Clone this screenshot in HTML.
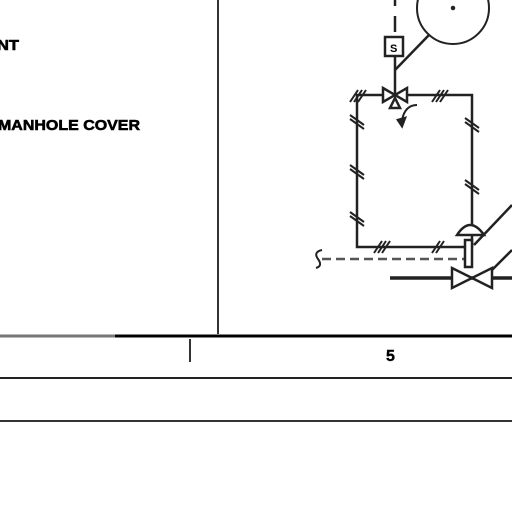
<!DOCTYPE html>
<html><head><meta charset="utf-8"><style>
html,body{margin:0;padding:0;background:#fff;width:512px;height:512px;overflow:hidden}
svg{display:block}
text{font-family:"Liberation Sans",sans-serif;font-weight:bold;fill:#000}
</style></head><body>
<svg width="512" height="512" viewBox="0 0 512 512">
<text x="-3" y="50" font-size="15" textLength="22" lengthAdjust="spacingAndGlyphs" stroke="#000" stroke-width="0.6">NT</text>
<text x="-2" y="130" font-size="15" textLength="142" lengthAdjust="spacingAndGlyphs" stroke="#000" stroke-width="0.6">MANHOLE COVER</text>
<line x1="218" y1="0" x2="218" y2="334" stroke="#333" stroke-width="2"/>
<line x1="0" y1="336" x2="512" y2="336" stroke="#000" stroke-width="3"/>
<line x1="0" y1="336" x2="115" y2="336" stroke="#777" stroke-width="3"/>
<line x1="190" y1="339" x2="190" y2="362" stroke="#333" stroke-width="2"/>
<text x="386" y="361" font-size="16" stroke="#000" stroke-width="0.4">5</text>
<line x1="0" y1="378" x2="512" y2="378" stroke="#222" stroke-width="2"/>
<line x1="0" y1="421" x2="512" y2="421" stroke="#333" stroke-width="2"/>
<g stroke="#222" stroke-width="2.5" fill="none">
<circle cx="453" cy="8" r="36" stroke-width="2"/>
<circle cx="453" cy="8" r="1" fill="#777"/>
<line x1="395" y1="0" x2="395" y2="10" stroke-dasharray="6 4"/>
<line x1="395" y1="16" x2="395" y2="32"/>
<rect x="385" y="37" width="18" height="19" stroke-width="2.5"/>
<text x="390" y="52" font-size="11" stroke="none">S</text>
<line x1="395" y1="57" x2="395" y2="95"/>
<line x1="429" y1="35" x2="395" y2="70"/>
<rect x="357" y="95" width="115" height="152"/>
<path d="M383 88 L407 102 L407 88 L383 102 Z" fill="#fff"/>
<path d="M390 108 L395 98 L400 108 Z" fill="#fff"/>
<path d="M417 105 Q405 105 402 120" stroke-width="2"/>
<path d="M398 120 L402 126 L405 118 Z" fill="#222"/>
<g stroke-width="2">
<path d="M350 102 L358 90 M354 102 L362 90 M358 102 L366 90"/>
<path d="M432 102 L440 90 M436 102 L444 90 M440 102 L448 90"/>
<path d="M350 115 L364 125 M350 119 L364 129"/>
<path d="M350 165 L364 175 M350 169 L364 179"/>
<path d="M350 212 L364 222 M350 216 L364 226"/>
<path d="M465 118 L479 128 M465 122 L479 132"/>
<path d="M465 180 L479 190 M465 184 L479 194"/>
<path d="M374 253 L382 241 M378 253 L386 241 M382 253 L390 241"/>
<path d="M432 253 L440 241 M436 253 L444 241"/>
</g>
<line x1="322" y1="259" x2="465" y2="259" stroke="#555" stroke-dasharray="9 5"/>
<path d="M322 250 Q313 252 318 259 Q323 266 316 268" stroke-width="2"/>
<path d="M457 235 Q470 215 484 235 Z" fill="#fff"/>
<rect x="465" y="240" width="7" height="27" fill="#fff"/>
<line x1="474" y1="245" x2="512" y2="205"/>
<line x1="480" y1="282" x2="512" y2="250"/>
<line x1="390" y1="278" x2="512" y2="278" stroke-width="3.5"/>
<path d="M452 268 L492 288 L492 268 L452 288 Z" fill="#fff"/>
</g>
</svg>
</body></html>
